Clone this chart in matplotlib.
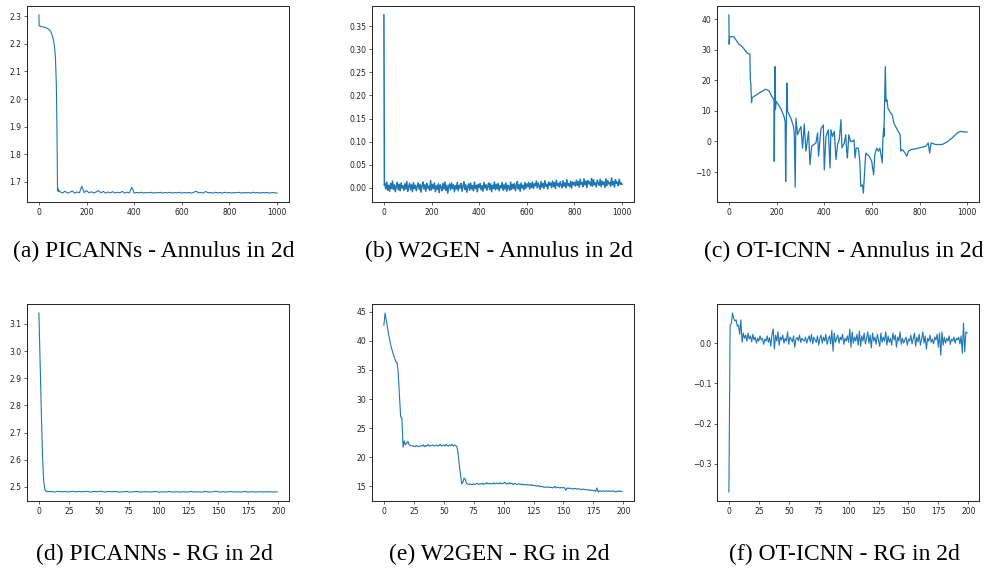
import numpy as np
import matplotlib
matplotlib.use("Agg")
import matplotlib.pyplot as plt

# (a) PICANNs - Annulus in 2d
picanns_ann_head_x = [0, 1, 10, 20, 30, 40, 45, 50, 55, 60, 63, 66, 69, 71, 73, 75, 76, 77, 78, 79, 80, 82, 85]
picanns_ann_head_y = [2.305, 2.265, 2.263, 2.261, 2.258, 2.254, 2.250, 2.244, 2.233, 2.218,
                      2.205, 2.185, 2.156, 2.110, 2.058, 1.940, 1.875, 1.780, 1.679, 1.667,
                      1.675, 1.664, 1.668]
picanns_ann_tail_x = list(range(90, 1001, 10))
picanns_ann_tail_y = [1.663, 1.660, 1.666, 1.659, 1.662, 1.667, 1.659, 1.663, 1.660, 1.684,
                      1.661, 1.668, 1.660, 1.664, 1.659, 1.663, 1.668, 1.660, 1.665, 1.659,
                      1.663, 1.660, 1.664, 1.659, 1.662, 1.660, 1.665, 1.659, 1.662, 1.660,
                      1.680, 1.659, 1.661, 1.660, 1.662, 1.659, 1.661, 1.660, 1.662, 1.659,
                      1.661, 1.660, 1.662, 1.659, 1.661, 1.660, 1.662, 1.659, 1.661, 1.660,
                      1.662, 1.659, 1.661, 1.660, 1.661, 1.659, 1.662, 1.666, 1.660, 1.661,
                      1.659, 1.665, 1.660, 1.661, 1.659, 1.662, 1.660, 1.661, 1.659, 1.662,
                      1.660, 1.661, 1.659, 1.661, 1.660, 1.662, 1.659, 1.661, 1.660, 1.661,
                      1.659, 1.662, 1.660, 1.661, 1.659, 1.661, 1.660, 1.661, 1.659, 1.661,
                      1.660, 1.659]

# (b) W2GEN - Annulus in 2d (tail values in units of 1e-3)
w2gen_ann_head_x = [0, 2]
w2gen_ann_head_y = [0.375, 0.005]
w2gen_ann_tail_x = list(range(4, 1001, 4))
w2gen_ann_tail_e3 = [
    8, -3, 12, -6, 5, -8, 9, -2, 14, -4, 6, -9, 3, 11, -5, 7, -7, 10, -1, 4, -6, 8, -3, 13, -8,
    2, 9, -5, 6, -9, 11, -2, 5, -7, 3, 10, -4, 7, -10, 4, 12, -3, 6, -8, 9, -1, 3, -6, 15, -5,
    7, -2, 10, -9, 4, -4, 8, -11, 6, 1, -7, 9, -3, 12, -6, 5, -12, 3, 8, -5, 10, -2, 6, -9, 4,
    -3, 11, -7, 5, -1, 9, -8, 3, 13, -4, 6, -10, 2, 8, -6, 10, -3, 4, -7, 12, -2, 5, -9, 7, 0,
    9, -5, 4, -8, 11, -1, 6, -6, 3, 10, -4, 8, -9, 5, -2, 12, -5, 7, -3, 9, -7, 4, -1, 11, -6,
    6, -3, 10, -8, 5, 1, -6, 12, -4, 7, -2, 9, -7, 4, 13, -3, 6, -8, 10, -1, 5, -5, 11, -2, 8,
    2, 11, -3, 9, 0, 12, -2, 8, 4, 14, -1, 10, 3, -4, 13, 1, 9, -2, 15, 3, 7, -3, 12, 5, 10,
    0, 14, 2, 11, -2, 16, 4, 9, 1, 13, 6, -1, 15, 3, 10, 0, 17, 5, 8, 2, 14, -1, 12, 6, 11,
    3, 16, 5, 13, 1, 18, 7, 11, 2, 19, 6, 14, 0, 15, 8, 12, 4, 20, 3, 17, 6, 10, 1, 16, 9,
    5, 18, 2, 14, 7, 12, 0, 19, 4, 15, 8, 11, 3, 21, 6, 13, 1, 17, 9, 12, 4, 18, 7, 10, 7,
]

# (c) OT-ICNN - Annulus in 2d
oticnn_ann_x = [0, 1, 3, 21, 42, 56, 77, 88, 90, 92,
                95, 97, 126, 154, 168, 180, 189, 190, 193, 195,
                198, 217, 231, 236, 238, 243, 246, 260, 271, 274,
                278, 281, 288, 302, 309, 316, 323, 334, 340, 347,
                365, 372, 376, 386, 396, 400, 407, 417, 424, 428,
                435, 442, 449, 456, 463, 470, 474, 484, 490, 494,
                497, 503, 510, 518, 525, 529, 534, 543, 549, 553,
                560, 564, 570, 574, 588, 599, 607, 612, 620, 627,
                633, 638, 643, 646, 649, 650, 656, 659, 663, 667,
                678, 685, 692, 699, 710, 718, 721, 728, 739, 746,
                753, 763, 783, 804, 825, 836, 842, 848, 867, 895,
                916, 937, 958, 972, 986, 999]
oticnn_ann_y = [41.4, 31.8, 34.3, 34.2, 31.8, 31.0, 28.9, 28.6, 20.2, 18.8,
                12.7, 14.3, 15.8, 17.1, 16.6, 14.7, 13.6, -6.5, 24.5, 10.4,
                13.1, 10.9, 8.2, 6.5, -13.1, 19.1, 9.8, 7.6, 4.9, 2.7,
                -15.0, 7.6, 2.2, 4.9, -2.2, 5.7, -3.2, 3.3, -7.6, -1.6,
                -0.5, 2.8, -4.8, 4.1, 5.4, -9.3, 1.6, 3.8, -8.7, 3.8,
                1.6, 3.3, -5.9, -1.0, 0.6, 7.1, -2.1, -0.5, 2.2, -3.2,
                -5.4, 2.2, 0.0, 0.0, 0.5, -5.4, -2.2, -2.2, -6.5, -14.7,
                -14.2, -16.9, -8.7, -3.8, -4.8, -6.5, -10.9, -4.3, -2.2, -3.2,
                -2.2, -4.3, -7.0, 1.0, 4.3, 1.6, 24.5, 13.1, 13.6, 10.9,
                9.3, 8.7, 6.0, 4.9, 3.3, 2.2, -3.2, -2.7, -3.8, -4.8,
                -3.2, -2.7, -2.4, -2.0, -1.6, -0.5, -3.8, -0.5, -1.0, -1.0,
                -0.1, 1.2, 2.8, 3.3, 3.1, 3.1]

# (d) PICANNs - RG in 2d
picanns_rg_x = [0, 1, 2, 3, 4, 5, 6, 7] + list(range(10, 200, 3))
picanns_rg_y = [3.14, 2.96, 2.78, 2.61, 2.52, 2.49, 2.484, 2.482,
                2.483, 2.481, 2.484, 2.482, 2.483, 2.481, 2.484, 2.482, 2.483, 2.482,
                2.484, 2.481, 2.483, 2.482, 2.484, 2.481, 2.483, 2.482, 2.483, 2.481,
                2.482, 2.483, 2.481, 2.482, 2.483, 2.481, 2.482, 2.482, 2.481, 2.483,
                2.481, 2.482, 2.481, 2.483, 2.481, 2.482, 2.481, 2.482, 2.481, 2.483,
                2.481, 2.482, 2.481, 2.483, 2.481, 2.482, 2.484, 2.481, 2.482, 2.481,
                2.483, 2.481, 2.482, 2.481, 2.483, 2.481, 2.482, 2.481, 2.482, 2.481,
                2.482, 2.482, 2.481, 2.482]

# (e) W2GEN - RG in 2d
w2gen_rg_y = [42.7, 44.8, 43.6, 42.3, 41.0, 40.0, 39.0, 38.3, 37.6, 37.0,
              36.4, 36.3, 34.5, 30.5, 26.9, 26.8, 21.7, 22.8, 22.1, 22.4,
              22.7, 22.2, 22.0, 22.0, 21.9, 21.9, 21.8, 22.0, 21.9, 21.8,
              21.9, 22.0, 21.9, 22.1, 21.8, 22.0, 21.9, 22.2, 21.9, 22.0,
              22.0, 22.1, 21.9, 22.0, 22.1, 21.9, 22.0, 22.2, 21.9, 22.0,
              22.1, 21.9, 22.2, 22.0, 21.9, 22.1, 22.0, 22.2, 21.9, 22.1,
              22.0, 21.8, 20.6, 18.6, 17.0, 15.4, 15.7, 16.4, 16.2, 15.5,
              15.4, 15.3, 15.4, 15.3, 15.3, 15.4, 15.3, 15.4, 15.5, 15.3,
              15.4, 15.4, 15.5, 15.3, 15.5, 15.4, 15.6, 15.4, 15.5, 15.4,
              15.5, 15.4, 15.6, 15.4, 15.5, 15.5, 15.4, 15.6, 15.4, 15.5,
              15.5, 15.7, 15.4, 15.5, 15.4, 15.6, 15.4, 15.5, 15.3, 15.5,
              15.4, 15.3, 15.4, 15.4, 15.3, 15.4, 15.2, 15.3, 15.3, 15.2,
              15.3, 15.2, 15.2, 15.3, 15.1, 15.2, 15.1, 15.1, 15.0, 15.1,
              15.0, 14.9, 15.0, 14.9, 14.8, 14.9, 14.8, 14.9, 14.8, 14.8,
              14.8, 14.7, 14.8, 15.0, 14.7, 14.8, 14.8, 14.7, 14.8, 14.7,
              14.8, 14.7, 14.3, 14.7, 14.6, 14.7, 14.6, 14.6, 14.5, 14.6,
              14.6, 14.5, 14.6, 14.5, 14.5, 14.4, 14.5, 14.5, 14.4, 14.4,
              14.4, 14.3, 14.4, 14.3, 14.3, 14.2, 14.3, 14.1, 14.7, 14.0,
              14.2, 14.2, 14.1, 14.2, 14.2, 14.1, 14.2, 14.1, 14.2, 14.1,
              14.2, 14.1, 14.2, 14.1, 14.0, 14.2, 14.1, 14.2, 14.1, 14.1]

# (f) OT-ICNN - RG in 2d (values in units of 1e-3)
oticnn_rg_e3 = [
    -370, 45, 48, 75, 62, 55, 58, 42, 45, 22, 58, 2, 25, 12, 20, 5, 25, 10, 18, 3,
    22, 8, 15, 0, 12, 5, 18, 8, 12, -3, 10, 5, 18, 2, 14, -8, 22, 35, -15, 20,
    5, 28, -5, 15, 8, 20, 0, 12, 5, 28, -3, 15, 10, 3, 18, -10, 10, 14, 6, 20,
    2, 12, 8, 5, 15, 0, 10, 18, 3, 22, -2, 15, 8, 2, 18, -5, 12, 20, 0, 15,
    5, 22, -3, 10, 18, -2, 32, -20, 25, 2, 12, 20, 0, 15, 8, 22, -3, 12, 5, 18,
    2, 35, -10, 28, 0, 15, 5, 22, -5, 30, -8, 18, 5, 25, -2, 12, 28, 0, 20, -12,
    25, 5, 15, -3, 22, 8, -8, 25, 2, 15, 5, 28, -5, 18, 2, 12, -5, 25, 8, 20,
    -10, 15, 5, 28, -3, 12, 0, 8, 15, -5, 10, 5, 20, -2, 12, 25, -8, 15, 3, 22,
    -5, 10, 28, 0, 18, -15, 12, 5, 20, 2, 10, -2, 15, 8, 22, -10, 25, -30, 28, -5,
    15, 0, 12, 5, 18, -3, 10, 5, 15, 0, 12, 8, 15, -2, 18, -25, 50, -22, 28, 25,
]

captions = ["(a) PICANNs - Annulus in 2d", "(b) W2GEN - Annulus in 2d", "(c) OT-ICNN - Annulus in 2d",
            "(d) PICANNs - RG in 2d", "(e) W2GEN - RG in 2d", "(f) OT-ICNN - RG in 2d"]

plt.rcParams["xtick.labelsize"] = 5.5
plt.rcParams["ytick.labelsize"] = 5.5
plt.rcParams["xtick.major.size"] = 2.0
plt.rcParams["ytick.major.size"] = 2.0
plt.rcParams["xtick.major.pad"] = 2.2
plt.rcParams["ytick.major.pad"] = 2.2
plt.rcParams["xtick.major.width"] = 0.5
plt.rcParams["ytick.major.width"] = 0.5
plt.rcParams["axes.linewidth"] = 0.7
plt.rcParams["axes.edgecolor"] = "#222222"

series = [
    (picanns_ann_head_x + picanns_ann_tail_x, picanns_ann_head_y + picanns_ann_tail_y),
    (w2gen_ann_head_x + w2gen_ann_tail_x, w2gen_ann_head_y + list(np.array(w2gen_ann_tail_e3) * 1e-3)),
    (oticnn_ann_x, oticnn_ann_y),
    (picanns_rg_x, picanns_rg_y),
    (list(range(len(w2gen_rg_y))), w2gen_rg_y),
    (list(range(len(oticnn_rg_e3))), list(np.array(oticnn_rg_e3) * 1e-3)),
]
line_widths = [0.8, 1.1, 0.9, 0.8, 0.8, 0.8]

fig = plt.figure(figsize=(9.87, 5.71), dpi=100)
lefts = [27, 372, 717]
rows = [(6, 202), (304, 501)]
cap_x = [154, 499, 844]
cap_y = [251, 554]
W, H = 987.0, 571.0
color = "#1f77b4"

for i, (xs, ys) in enumerate(series):
    r, c = divmod(i, 3)
    top, bot = rows[r]
    ax = fig.add_axes([lefts[c] / W, 1 - bot / H, 262 / W, (bot - top) / H])
    ax.plot(xs, ys, color=color, lw=line_widths[i])
    ax.tick_params(colors="#222222")
    fig.text(cap_x[c] / W, 1 - cap_y[r] / H, captions[i], ha="center", va="center",
             family="Liberation Serif", fontsize=17)

fig.savefig("out.png", dpi=100)
